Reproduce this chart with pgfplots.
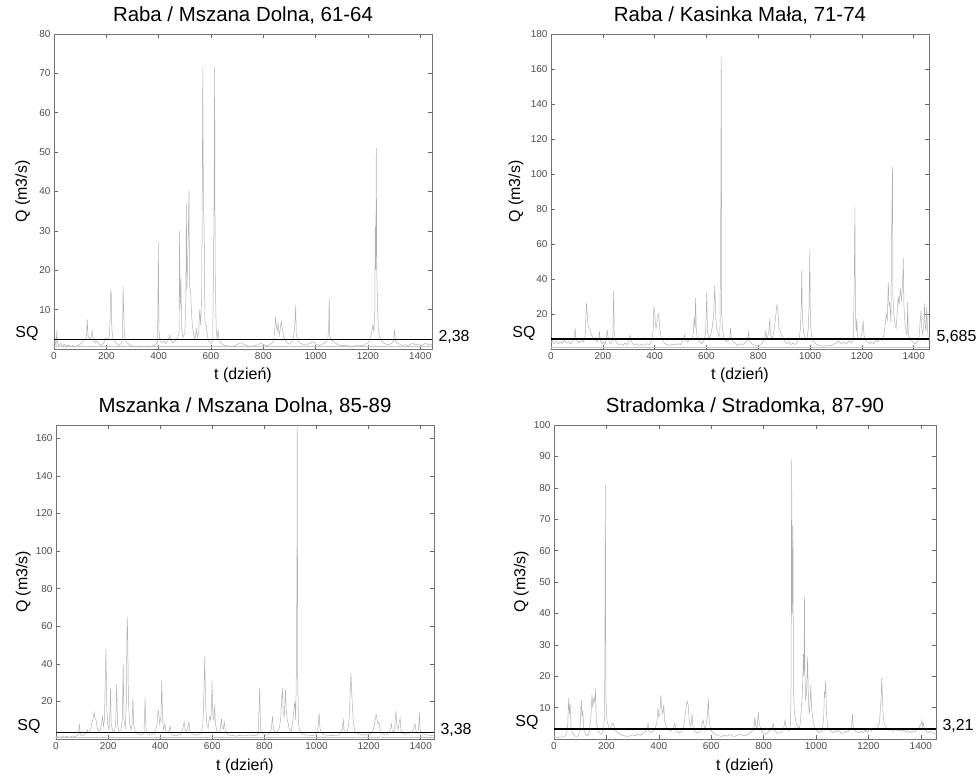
\documentclass[border=0pt]{standalone}
\usepackage{fontspec}
\setmainfont{Liberation Sans}
\usepackage{pgfplots}
\pgfplotsset{compat=1.18}
\tikzset{sqlab/.style={font=\fontsize{16}{18}\selectfont}}
\pgfplotsset{
  panel/.style={
    scale only axis, xmin=0, ymin=0,
    clip mode=individual,
    axis line style={black!55, line width=0.6bp},
    tick style={black!60, line width=0.5bp},
    major tick length=4bp,
    tick align=inside, tick pos=both,
    xtick={0,200,...,1400},
    scaled ticks=false,
    /pgf/number format/assume math mode=true,
    /pgf/number format/set thousands separator={},
    tick label style={font=\fontsize{10}{11}\selectfont, text=black!70},
    title style={font=\fontsize{20.5}{23}\selectfont, at={(axis description cs:0.5,1)}, anchor=base, yshift=7bp},
    xlabel={t (dzień)}, ylabel={Q (m3/s)},
    label style={font=\fontsize{16}{18}\selectfont},
    xlabel style={at={(axis description cs:0.5,0)}, anchor=base, yshift=-31bp},
  },
  data/.style={sharp plot, black!30, line width=0.5bp},
  low/.style={sharp plot, black!22, line width=0.6bp},
  sq/.style={sharp plot, black, line width=1.6bp},
}
\begin{document}
\begin{tikzpicture}
\useasboundingbox (0,0) rectangle (976bp,782bp);
% ---------------- Panel 1
\begin{axis}[panel, at={(54bp,433bp)}, anchor=south west, width=378bp, height=315bp,
  xmax=1445, ymax=80, ytick={10,20,...,80},
  title={Raba / Mszana Dolna, 61-64},
  ylabel style={at={(axis description cs:-0.072,0.5)}, anchor=base}]
\addplot[low] coordinates {(0,0.6) (1445,0.6)};
\addplot[data] coordinates {
(0,1.5)(4,2.2)(8,1.0)(11,4.8)(13,1.6)(18,0.9)(25,1.4)(32,0.8)(40,1.2)(48,0.7)(56,1.1)(64,0.6)(72,0.9)(80,0.5)(90,0.8)(100,1.2)(110,1.8)(118,2.4)(124,3.0)(127,7.5)(130,3.5)(136,2.6)(142,3.0)(146,4.5)(150,2.2)(158,1.6)(166,2.0)(174,1.2)(182,0.9)(190,1.6)(198,2.8)(206,2.2)(212,3.5)(215,9.0)(217,15.0)(219,14.0)(221,5.0)(226,2.5)(234,1.8)(242,1.2)(250,0.9)(258,1.6)(262,2.5)(264,16.0)(266,11.0)(269,3.5)(275,2.0)(283,1.4)(292,1.0)(302,0.7)(315,0.6)(330,0.5)(345,0.6)(360,0.5)(375,0.7)(388,1.0)(396,1.8)(399,27.0)(401,5.0)(405,2.2)(412,1.6)(420,2.0)(428,1.4)(436,2.2)(442,3.5)(448,2.0)(456,1.5)(464,2.2)(472,2.8)(478,4.0)(480,30.0)(482,10.0)(485,18.0)(488,5.0)(493,3.0)(500,4.0)(504,12.0)(506,37.0)(508,15.0)(513,28.0)(516,40.5)(518,16.0)(522,15.0)(525,10.0)(529,6.0)(534,3.5)(539,2.5)(544,5.0)(548,3.0)(553,4.0)(557,10.0)(561,6.0)(565,16.0)(569,71.5)(571,39.0)(574,30.0)(577,7.0)(582,6.0)(587,3.0)(593,1.8)(600,1.4)(607,2.0)(612,38.0)(614,71.5)(616,20.0)(620,5.0)(624,2.5)(627,5.0)(631,2.0)(640,1.4)(650,1.0)(662,0.8)(675,0.6)(690,0.8)(702,1.2)(714,1.6)(725,1.2)(738,0.9)(750,0.6)(765,0.8)(778,1.0)(790,1.4)(802,1.1)(815,0.8)(828,1.2)(838,1.8)(843,4.0)(847,8.0)(850,6.0)(853,4.5)(857,6.5)(861,3.5)(865,5.0)(869,7.0)(873,5.0)(878,3.0)(885,2.2)(892,1.6)(900,1.2)(908,1.8)(914,2.5)(919,5.0)(922,8.0)(924,11.0)(926,4.0)(931,2.2)(940,1.5)(952,1.2)(965,1.0)(978,1.4)(990,1.8)(1002,1.2)(1015,0.9)(1028,1.3)(1040,1.8)(1047,2.5)(1050,6.0)(1052,13.0)(1054,3.5)(1060,2.2)(1068,1.8)(1078,1.4)(1090,1.0)(1102,0.8)(1115,1.0)(1128,0.7)(1140,0.6)(1152,0.8)(1165,1.0)(1178,0.8)(1190,1.2)(1200,1.6)(1208,2.2)(1214,4.0)(1219,6.0)(1223,4.5)(1226,8.0)(1228,31.0)(1230,20.0)(1232,51.0)(1234,20.0)(1237,10.0)(1240,5.0)(1245,3.0)(1252,2.2)(1260,1.6)(1270,1.2)(1280,1.0)(1290,1.4)(1298,2.0)(1302,5.0)(1305,2.0)(1312,1.5)(1322,1.2)(1332,0.9)(1342,1.1)(1352,0.8)(1362,1.2)(1372,1.4)(1382,1.0)(1392,1.3)(1402,0.9)(1412,1.2)(1422,1.4)(1432,1.0)(1440,1.3)(1445,1.1)};
\addplot[sq] coordinates {(0,2.38) (1445,2.38)};
\node[sqlab, anchor=base east, xshift=-12bp, yshift=2bp] at (axis cs:0,2.38) {SQ};
\node[sqlab, anchor=base west, xshift=3bp, yshift=-2bp] at (axis cs:1445,2.38) {2,38};
\end{axis}
% ---------------- Panel 2
\begin{axis}[panel, at={(551bp,433bp)}, anchor=south west, width=378bp, height=315bp,
  xmax=1459, ymax=180, ytick={20,40,...,180},
  title={Raba / Kasinka Mała, 71-74},
  ylabel style={at={(axis description cs:-0.082,0.5)}, anchor=base}]
\addplot[low] coordinates {(0,1.0) (1459,1.0)};
\addplot[data] coordinates {
(0,3.5)(6,5.0)(12,3.0)(20,4.5)(28,2.8)(36,4.0)(44,3.2)(52,5.0)(60,3.5)(68,4.2)(76,2.8)(84,4.5)(90,6.0)(93,12.0)(96,6.0)(102,4.5)(110,3.5)(118,5.0)(126,4.0)(132,8.0)(135,20.0)(137,26.0)(139,22.0)(142,15.0)(146,12.0)(150,12.0)(155,9.0)(160,7.0)(166,5.0)(172,6.5)(178,4.0)(184,6.0)(187,10.0)(190,5.0)(196,3.0)(202,4.0)(208,2.5)(214,6.0)(217,11.0)(220,7.0)(225,4.0)(232,3.0)(238,5.0)(242,33.0)(244,10.0)(248,5.0)(255,3.5)(262,2.5)(270,3.0)(278,2.0)(286,3.5)(294,2.5)(300,4.0)(305,8.0)(308,5.0)(315,3.0)(323,2.2)(331,3.0)(340,2.0)(350,2.8)(360,2.0)(370,3.0)(380,2.5)(388,4.0)(394,10.0)(397,24.0)(400,22.0)(403,14.0)(406,12.0)(410,16.0)(413,20.0)(416,20.0)(420,11.0)(425,7.0)(432,4.5)(440,3.0)(450,2.5)(460,2.0)(470,2.8)(480,2.2)(490,3.0)(500,2.5)(508,5.0)(516,8.0)(520,5.0)(528,4.0)(536,6.0)(544,5.0)(550,10.0)(552,18.0)(556,12.0)(558,29.0)(561,10.0)(566,6.0)(574,4.0)(582,3.0)(590,5.0)(596,8.0)(599,20.0)(601,32.0)(604,10.0)(610,6.0)(616,8.0)(622,12.0)(628,20.0)(632,36.0)(635,22.0)(638,14.0)(642,10.0)(647,8.0)(652,7.0)(655,72.0)(657,167.0)(659,20.0)(663,10.0)(668,6.0)(676,4.0)(684,5.0)(690,7.0)(693,12.0)(696,6.0)(704,4.0)(712,3.0)(720,2.0)(730,3.0)(740,2.5)(750,3.5)(758,5.0)(763,10.0)(766,5.0)(774,3.0)(782,2.5)(790,2.0)(800,1.8)(810,2.5)(818,4.0)(824,6.0)(829,10.0)(832,6.0)(838,8.0)(841,10.0)(844,17.0)(847,8.0)(852,6.0)(858,8.0)(864,14.0)(868,20.0)(871,25.0)(874,24.0)(877,18.0)(880,12.0)(885,10.0)(890,8.0)(896,6.0)(903,4.5)(910,3.0)(918,4.0)(926,2.5)(934,3.5)(942,2.5)(950,4.0)(958,6.0)(963,12.0)(966,26.0)(968,45.0)(970,20.0)(973,12.0)(977,8.0)(982,6.0)(988,5.0)(993,12.0)(996,25.0)(999,57.0)(1001,15.0)(1005,8.0)(1010,5.0)(1018,3.5)(1026,2.5)(1034,2.0)(1044,1.8)(1055,1.6)(1066,2.2)(1078,1.8)(1090,2.5)(1100,3.5)(1110,4.5)(1120,3.0)(1130,4.0)(1140,3.0)(1150,4.5)(1160,3.5)(1167,6.0)(1171,47.0)(1173,81.0)(1175,20.0)(1178,10.0)(1180,17.0)(1183,8.0)(1188,5.0)(1195,6.0)(1201,10.0)(1205,16.0)(1208,8.0)(1214,5.0)(1222,4.0)(1230,3.0)(1238,4.0)(1246,3.0)(1254,5.0)(1262,4.0)(1270,6.0)(1278,5.0)(1285,8.0)(1290,14.0)(1294,20.0)(1298,16.0)(1302,38.0)(1305,25.0)(1308,26.0)(1312,15.0)(1315,70.0)(1318,104.0)(1320,30.0)(1323,20.0)(1327,15.0)(1332,12.0)(1336,20.0)(1340,30.0)(1344,25.0)(1348,35.0)(1352,28.0)(1356,33.0)(1360,52.0)(1362,25.0)(1366,15.0)(1370,10.0)(1374,8.0)(1377,27.0)(1379,10.0)(1384,6.0)(1390,5.0)(1398,4.0)(1406,3.0)(1414,4.0)(1420,6.0)(1424,14.0)(1428,22.0)(1431,12.0)(1435,8.0)(1439,15.0)(1441,26.0)(1444,14.0)(1447,10.0)(1450,24.0)(1453,12.0)(1456,6.0)(1459,5.0)};
\addplot[sq] coordinates {(0,5.685) (1459,5.685)};
\node[sqlab, anchor=base east, xshift=-12bp, yshift=2bp] at (axis cs:0,5.685) {SQ};
\node[sqlab, anchor=base west, xshift=4bp, yshift=-2bp] at (axis cs:1459,5.685) {5,685};
\end{axis}
% ---------------- Panel 3
\begin{axis}[panel, at={(56bp,43bp)}, anchor=south west, width=378bp, height=314bp,
  xmax=1451, ymax=167, ytick={20,40,...,160},
  title={Mszanka / Mszana Dolna, 85-89},
  ylabel style={at={(axis description cs:-0.076,0.5)}, anchor=base}]
\addplot[low] coordinates {(0,1.0) (1451,1.0)};
\addplot[data] coordinates {
(0,1.5)(8,1.2)(16,0.9)(24,1.3)(32,1.0)(40,1.4)(48,0.9)(56,1.2)(64,1.6)(72,1.2)(80,1.8)(86,2.5)(90,8.0)(93,2.5)(100,1.8)(108,2.2)(115,2.8)(120,5.0)(122,3.0)(128,4.0)(134,6.0)(138,9.0)(141,10.0)(144,12.0)(147,14.0)(150,11.0)(154,10.0)(158,6.0)(164,4.0)(170,5.0)(175,8.0)(179,12.0)(182,7.0)(186,10.0)(188,25.0)(192,48.0)(194,20.0)(198,8.0)(203,5.0)(206,10.0)(209,27.0)(212,8.0)(218,4.0)(224,3.5)(229,8.0)(233,29.0)(236,8.0)(242,4.0)(250,5.0)(255,12.0)(258,40.0)(261,10.0)(266,6.0)(270,20.0)(273,65.0)(275,58.0)(278,20.0)(283,8.0)(288,5.0)(292,8.0)(295,22.0)(298,8.0)(304,4.0)(312,3.0)(320,2.5)(330,2.0)(338,4.0)(342,22.0)(345,6.0)(352,3.0)(360,2.0)(370,2.5)(380,3.0)(388,8.0)(391,14.0)(394,15.0)(398,8.0)(403,12.0)(406,31.0)(409,10.0)(413,5.0)(418,8.0)(422,4.0)(430,3.0)(435,5.0)(438,7.0)(442,3.0)(450,2.0)(460,1.8)(470,2.2)(480,2.5)(487,6.0)(492,9.0)(496,5.0)(502,4.0)(506,6.0)(510,9.0)(514,4.0)(522,2.8)(530,2.2)(540,2.0)(550,2.5)(558,3.0)(564,8.0)(568,25.0)(571,44.0)(574,20.0)(578,8.0)(584,6.0)(590,12.0)(594,10.0)(597,18.0)(599,31.0)(602,12.0)(606,10.0)(609,18.0)(612,8.0)(618,4.0)(625,3.0)(630,5.0)(635,11.0)(638,6.0)(642,5.0)(646,9.0)(650,4.0)(658,2.5)(668,2.0)(680,1.8)(692,1.5)(705,2.0)(718,1.6)(730,1.8)(742,2.2)(755,1.8)(768,2.0)(776,2.5)(782,27.0)(785,5.0)(792,3.0)(800,2.5)(810,2.0)(820,2.8)(826,5.0)(831,12.0)(835,5.0)(842,3.5)(850,4.0)(858,6.0)(863,12.0)(866,20.0)(869,27.0)(872,15.0)(876,12.0)(879,20.0)(881,26.0)(884,15.0)(888,10.0)(892,8.0)(896,5.0)(902,4.0)(908,8.0)(912,14.0)(915,18.0)(917,20.0)(920,10.0)(923,40.0)(925,95.0)(926,167.0)(928,30.0)(931,8.0)(935,5.0)(942,3.0)(950,2.5)(960,2.0)(970,2.2)(980,1.8)(990,2.0)(998,2.5)(1004,5.0)(1007,8.0)(1010,14.0)(1013,6.0)(1018,3.5)(1025,2.5)(1035,2.0)(1045,2.2)(1055,1.8)(1065,2.0)(1075,1.6)(1085,2.2)(1092,2.8)(1098,5.0)(1103,10.0)(1106,4.0)(1112,3.0)(1118,4.0)(1124,8.0)(1128,20.0)(1132,35.0)(1135,25.0)(1138,17.0)(1142,8.0)(1148,4.0)(1156,3.0)(1165,2.5)(1175,2.0)(1185,2.4)(1195,2.0)(1205,2.8)(1214,3.5)(1220,6.0)(1225,10.0)(1229,13.0)(1232,11.0)(1236,8.0)(1240,9.0)(1244,5.0)(1250,3.0)(1258,2.5)(1266,2.2)(1274,2.8)(1280,4.0)(1285,6.0)(1288,8.0)(1291,4.0)(1296,3.5)(1300,6.0)(1305,15.0)(1308,8.0)(1313,5.0)(1318,9.0)(1321,11.0)(1324,5.0)(1330,3.0)(1340,2.5)(1350,2.8)(1360,3.5)(1368,4.0)(1374,6.0)(1378,8.0)(1382,4.0)(1388,3.0)(1392,6.0)(1395,14.0)(1398,5.0)(1404,3.0)(1412,2.5)(1420,2.0)(1430,2.2)(1440,1.8)(1451,2.0)};
\addplot[sq] coordinates {(0,3.38) (1451,3.38)};
\node[sqlab, anchor=base east, xshift=-12bp, yshift=2bp] at (axis cs:0,3.38) {SQ};
\node[sqlab, anchor=base west, xshift=3bp, yshift=-2bp] at (axis cs:1451,3.38) {3,38};
\end{axis}
% ---------------- Panel 4
\begin{axis}[panel, at={(554bp,43bp)}, anchor=south west, width=382bp, height=314bp,
  xmax=1458, ymax=100, ytick={10,20,...,100},
  title={Stradomka / Stradomka, 87-90},
  ylabel style={at={(axis description cs:-0.075,0.5)}, anchor=base}]
\addplot[data] coordinates {
(0,0.8)(8,0.6)(16,0.5)(24,0.7)(32,0.6)(40,0.8)(48,1.5)(52,4.0)(56,13.0)(59,8.0)(62,11.0)(65,4.0)(70,2.0)(78,1.0)(86,0.8)(94,1.2)(100,4.0)(104,12.5)(107,7.0)(110,9.0)(114,3.0)(120,1.5)(128,1.0)(134,2.0)(140,6.0)(145,14.0)(148,10.0)(152,13.0)(155,12.0)(158,16.0)(161,6.0)(166,3.0)(172,2.0)(180,1.5)(188,2.5)(192,6.0)(194,21.0)(196,81.0)(198,14.0)(202,6.0)(208,4.0)(214,3.0)(220,4.5)(226,5.0)(232,3.0)(240,2.2)(250,1.6)(260,1.2)(270,1.0)(280,0.8)(290,1.0)(300,1.3)(310,1.0)(320,1.5)(330,1.2)(340,1.8)(350,2.5)(356,3.0)(359,5.0)(362,2.5)(370,2.0)(378,2.5)(386,3.5)(392,5.0)(397,10.0)(400,7.0)(404,8.0)(408,14.0)(411,10.0)(415,8.0)(419,11.0)(422,6.0)(428,4.0)(436,3.0)(444,2.5)(452,3.0)(458,4.0)(461,5.0)(465,3.0)(472,2.2)(480,2.0)(488,2.5)(495,4.0)(500,7.0)(504,10.0)(508,12.0)(512,11.0)(516,6.0)(520,4.0)(524,5.0)(527,8.0)(530,4.0)(538,2.5)(546,2.0)(554,2.2)(560,3.0)(565,5.0)(569,6.0)(573,4.0)(578,3.0)(583,6.0)(586,8.0)(589,13.0)(592,6.0)(598,3.0)(606,2.0)(614,1.5)(622,1.2)(630,1.0)(640,0.8)(650,1.2)(660,0.9)(670,1.4)(680,1.0)(690,0.8)(700,1.2)(710,1.6)(720,1.2)(730,1.0)(740,1.5)(750,2.0)(758,2.8)(764,4.0)(767,7.0)(770,4.0)(775,3.5)(780,8.5)(783,5.0)(790,3.0)(798,2.0)(806,1.5)(814,1.8)(822,2.5)(830,3.0)(834,4.0)(837,5.0)(840,3.0)(848,2.2)(856,1.8)(864,2.0)(872,2.5)(878,4.0)(882,6.0)(886,4.0)(892,3.0)(898,2.5)(903,5.0)(905,20.0)(907,89.0)(909,40.0)(912,68.0)(914,15.0)(918,8.0)(924,5.0)(930,4.0)(936,3.5)(940,5.0)(944,10.0)(948,14.0)(950,20.0)(952,27.0)(954,20.0)(956,45.0)(958,20.0)(961,12.0)(964,15.0)(966,20.0)(968,26.0)(971,12.0)(974,8.0)(977,10.0)(980,17.0)(983,10.0)(986,8.0)(990,5.0)(996,3.5)(1004,2.5)(1012,2.0)(1020,2.5)(1026,4.0)(1030,8.0)(1032,15.0)(1034,14.0)(1037,18.5)(1040,8.0)(1044,4.0)(1050,3.0)(1058,2.5)(1066,2.0)(1074,2.5)(1082,3.0)(1090,2.2)(1098,1.8)(1106,2.0)(1114,2.5)(1122,2.2)(1130,3.0)(1136,4.0)(1139,8.0)(1142,4.0)(1148,2.8)(1156,2.2)(1164,2.0)(1172,2.5)(1180,2.0)(1188,2.8)(1196,2.2)(1204,3.0)(1212,2.5)(1220,3.5)(1228,3.0)(1236,4.0)(1242,5.0)(1246,10.0)(1249,14.0)(1251,19.5)(1253,14.0)(1256,8.0)(1260,5.0)(1266,4.0)(1272,3.0)(1280,2.8)(1288,3.0)(1296,2.5)(1304,3.2)(1312,2.6)(1320,3.0)(1328,2.4)(1336,2.8)(1344,2.2)(1352,2.6)(1360,2.0)(1368,2.5)(1376,2.2)(1384,2.8)(1392,3.5)(1398,4.5)(1401,5.0)(1404,6.0)(1407,4.0)(1410,5.0)(1414,3.0)(1420,2.5)(1428,2.0)(1436,2.5)(1444,2.0)(1452,1.8)(1458,1.5)};
\addplot[sq] coordinates {(0,3.21) (1458,3.21)};
\node[sqlab, anchor=base east, xshift=-12bp, yshift=2bp] at (axis cs:0,3.21) {SQ};
\node[sqlab, anchor=base west, xshift=3bp, yshift=-2bp] at (axis cs:1458,3.21) {3,21};
\end{axis}
\end{tikzpicture}
\end{document}
